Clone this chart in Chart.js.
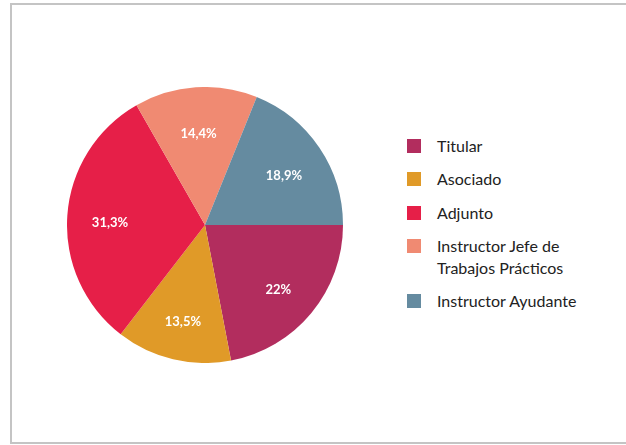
<!DOCTYPE html>
<html>
<head>
<meta charset="utf-8">
<script src="https://cdn.jsdelivr.net/npm/chart.js@4/dist/chart.umd.min.js"></script>
<style>
  body { margin: 0; background: #fff; font-family: Lato, "Open Sans", sans-serif; }
  #frame { position: absolute; left: 10px; top: 3px; width: 640px; height: 437px; border: 2px solid #c4c4c4; }
  #chart-box { position: absolute; left: 67px; top: 87px; width: 276px; height: 276px; }
  #legend { position: absolute; left: 407px; top: 135px; margin: 0; padding: 0; list-style: none; font-size: 16px; color: #222; }
  #legend li { position: relative; padding-left: 30px; line-height: 22px; margin-bottom: 11.3px; }
  #legend li span.box { position: absolute; left: 0; top: 4px; width: 14px; height: 14px; }
</style>
</head>
<body>
<div id="frame"></div>
<div id="chart-box"><canvas id="pieChart"></canvas></div>
<ul id="legend"></ul>
<script>
const categories = ["Titular", "Asociado", "Adjunto", "Instructor Jefe de\nTrabajos Prácticos", "Instructor Ayudante"];
const percentages = [22, 13.5, 31.3, 14.4, 18.9];
const sliceColors = ["#b22d5e", "#e09a28", "#e61f48", "#f08a72", "#658ba0"];

function formatPct(v) {
    return String(v).replace(".", ",") + "%";
}

// draws the white percentage inside each slice
const sliceLabels = {
    id: "sliceLabels",
    afterDatasetsDraw(chart) {
        const ctx = chart.ctx;
        const meta = chart.getDatasetMeta(0);
        ctx.save();
        ctx.fillStyle = "#fff";
        ctx.font = "bold 13px Lato, sans-serif";
        ctx.textAlign = "center";
        ctx.textBaseline = "middle";
        meta.data.forEach((arc, i) => {
            const p = arc.getProps(["x", "y", "startAngle", "endAngle", "outerRadius"]);
            const mid = (p.startAngle + p.endAngle) / 2;
            const r = p.outerRadius * 0.69;
            ctx.fillText(formatPct(percentages[i]), p.x + Math.cos(mid) * r, p.y + Math.sin(mid) * r + 4);
        });
        ctx.restore();
    }
};

const chart = new Chart(document.getElementById("pieChart").getContext("2d"), {
    type: "pie",
    data: {
        labels: categories,
        datasets: [{
            data: percentages,
            backgroundColor: sliceColors,
            borderWidth: 0
        }]
    },
    options: {
        responsive: true,
        maintainAspectRatio: false,
        animation: false,
        rotation: 90,
        layout: { padding: 0 },
        plugins: {
            legend: { display: false },
            tooltip: { enabled: false }
        }
    },
    plugins: [sliceLabels]
});

const legend = document.getElementById("legend");
categories.forEach((name, i) => {
    const li = document.createElement("li");
    li.innerHTML = `<span class="box" style="background:${sliceColors[i]}"></span>${name.replace("\n", "<br>")}`;
    legend.appendChild(li);
});
</script>
</body>
</html>
